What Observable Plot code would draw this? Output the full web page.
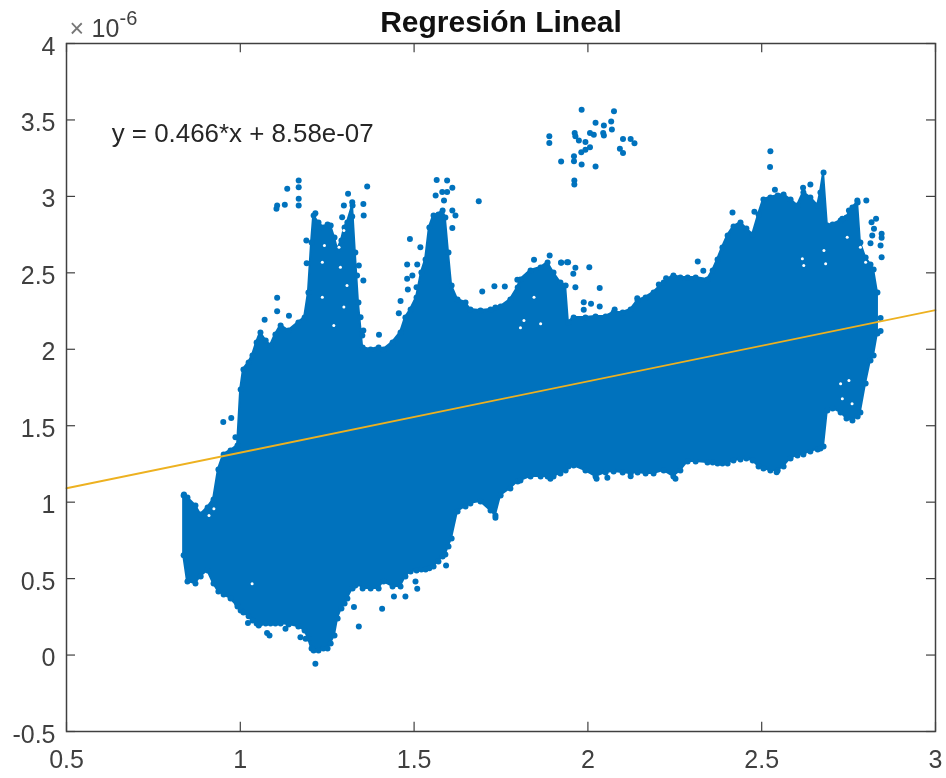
<!DOCTYPE html>
<html>
<head>
<meta charset="utf-8">
<script src="https://cdn.jsdelivr.net/npm/d3@7"></script>
<script src="https://cdn.jsdelivr.net/npm/@observablehq/plot@0.6"></script>
<style>
html,body{margin:0;padding:0;background:#fff}
svg{display:block;filter:blur(0.35px)}
</style>
</head>
<body>
<div id="chart"></div>
<script>
// y values are in units of 1e-6, as on the chart's own axis
const title = "Regresión Lineal";
const equation = "y = 0.466*x + 8.58e-07";
const xTicks = [0.5, 1, 1.5, 2, 2.5, 3];
const yTicks = [-0.5, 0, 0.5, 1, 1.5, 2, 2.5, 3, 3.5, 4];

const fitX = [0.5, 3];
const fitY = [1.091, 2.256];

// outer edge of the dense cloud
const edgeX = [.837,.848,.871,.886,.906,.923,.937,.952,.972,.992,1.001,1.009,1.024,1.035,1.047,1.058,1.073,1.087,1.101,1.116,1.139,1.167,1.185,1.196,1.205,1.211,1.225,1.239,1.251,1.260,1.271,1.280,1.291,1.300,1.308,1.323,1.331,1.340,1.352,1.375,1.398,1.412,1.438,1.461,1.475,1.490,1.507,1.521,1.533,1.544,1.556,1.570,1.582,1.590,1.599,1.608,1.625,1.648,1.662,1.691,1.720,1.734,1.749,1.777,1.798,1.806,1.835,1.864,1.884,1.901,1.921,1.936,1.944,1.959,1.993,2.022,2.051,2.074,2.100,2.123,2.143,2.166,2.189,2.218,2.246,2.266,2.287,2.310,2.344,2.359,2.373,2.387,2.402,2.419,2.439,2.456,2.474,2.491,2.505,2.525,2.546,2.563,2.583,2.603,2.620,2.640,2.661,2.669,2.678,2.689,2.704,2.727,2.744,2.761,2.776,2.784,2.799,2.813,2.822,2.833];
const edgeTop = [1.044,1.031,.978,.920,.965,1.018,1.214,1.312,1.338,1.371,1.737,1.868,1.914,1.960,2.045,2.110,2.058,2.025,2.097,2.156,2.123,2.175,2.208,2.372,2.699,2.875,2.829,2.797,2.816,2.810,2.731,2.653,2.712,2.797,2.829,2.941,2.633,2.306,2.012,1.999,2.012,1.999,2.045,2.110,2.208,2.260,2.339,2.502,2.587,2.797,2.875,2.882,2.908,2.862,2.633,2.417,2.326,2.306,2.260,2.254,2.260,2.273,2.280,2.326,2.404,2.457,2.515,2.535,2.568,2.502,2.437,2.417,2.175,2.208,2.208,2.215,2.215,2.241,2.241,2.260,2.319,2.339,2.372,2.437,2.483,2.470,2.470,2.470,2.457,2.515,2.587,2.666,2.744,2.803,2.829,2.790,2.751,2.882,2.980,2.993,3.006,3.012,2.980,2.941,3.026,2.993,2.941,3.026,3.156,2.810,2.816,2.842,2.862,2.927,2.960,2.699,2.600,2.555,2.522,2.372];
const edgeBottom = [.652,.481,.468,.514,.553,.468,.416,.396,.370,.318,.292,.279,.253,.226,.207,.207,.207,.207,.207,.207,.200,.187,.161,.109,.043,.030,.030,.043,.043,.076,.128,.239,.305,.338,.370,.436,.455,.468,.436,.436,.436,.481,.449,.449,.514,.547,.553,.560,.560,.567,.580,.612,.645,.658,.710,.763,.939,.972,.992,1.005,.946,.913,1.044,1.090,1.135,1.142,1.168,1.168,1.168,1.168,1.188,1.207,1.234,1.240,1.207,1.168,1.194,1.201,1.194,1.188,1.194,1.188,1.188,1.207,1.168,1.207,1.266,1.266,1.260,1.260,1.253,1.253,1.253,1.273,1.279,1.286,1.273,1.234,1.220,1.207,1.207,1.234,1.286,1.306,1.312,1.332,1.345,1.351,1.364,1.600,1.613,1.587,1.548,1.534,1.561,1.587,1.776,1.927,1.960,2.103];

// stray points outside the dense cloud
const strayX = [1.106,1.104,1.128,1.135,1.168,1.168,1.168,1.168,1.365,1.310,1.322,1.298,1.354,1.355,1.293,1.322,1.216,1.190,1.191,1.106,1.106,1.070,1.140,1.341,1.336,1.354,1.346,1.354,1.351,1.399,1.461,1.456,1.488,1.518,1.480,1.509,1.480,1.495,1.482,1.507,1.565,1.595,1.610,1.562,1.581,1.595,1.586,1.610,1.619,1.610,1.686,1.696,1.731,1.761,1.797,1.845,1.890,1.923,1.940,
1.982,2.075,2.022,2.067,2.046,2.069,2.046,2.044,2.006,2.017,1.962,1.964,1.889,1.889,1.974,1.993,2.006,1.993,1.981,1.960,1.960,1.923,1.982,2.022,1.961,1.961,2.101,2.123,2.134,2.092,2.101,2.525,2.524,2.538,2.416,2.479,2.316,2.332,2.204,2.225,2.004,2.034,1.923,1.943,1.964,1.958,1.964,1.988,2.009,1.988,2.034,2.077,2.142,2.640,2.619,2.775,2.801,2.829,2.816,2.845,2.845,2.818,2.813,2.842,2.845,2.823,2.751,2.732,2.842,2.842,
.838,.951,.974,.986,1.022,1.084,1.077,1.130,1.173,1.188,1.216,1.341,1.327,1.408,1.442,1.475,1.509,1.504,1.592,1.734,1.053,.991,2.025,2.056,1.892,2.252,2.543,2.123];
const strayY = [2.941,2.919,2.945,3.050,3.104,3.060,2.984,2.941,3.065,3.017,2.962,2.941,2.951,2.875,2.864,2.868,2.890,2.712,2.563,2.337,2.249,2.193,2.219,2.548,2.483,2.450,2.210,2.123,2.090,2.095,2.315,2.236,2.722,2.668,2.555,2.555,2.461,2.483,2.391,2.406,3.108,3.104,3.056,3.006,3.028,3.028,2.973,2.908,2.875,2.794,2.969,2.378,2.413,2.411,2.454,2.585,2.613,2.568,2.570,
3.566,3.557,3.481,3.490,3.464,3.438,3.398,3.414,3.414,3.403,3.414,3.394,3.394,3.350,3.366,3.355,3.322,3.305,3.289,3.263,3.230,3.228,3.209,3.196,3.104,3.078,3.376,3.376,3.348,3.311,3.283,3.296,3.193,3.043,2.895,2.899,2.574,2.513,2.424,2.465,2.537,2.400,2.566,2.570,2.533,2.494,2.406,2.308,2.297,2.258,2.280,2.260,2.334,3.078,3.056,2.973,2.973,2.853,2.831,2.755,2.729,2.744,2.694,2.679,2.602,2.788,2.908,2.853,2.119,2.204,
1.050,1.524,1.550,1.425,.209,.128,.144,.172,.117,.106,-.057,.187,.314,.303,.383,.383,.434,.481,.586,.898,.194,.335,1.153,1.159,1.153,1.153,1.196,1.170];

// small uncovered gaps inside the cloud
const gapX = [1.236,1.242,1.284,1.298,1.288,1.307,1.236,1.298,1.269,1.816,1.864,1.806,1.845,2.617,2.621,2.684,2.679,2.746,2.784,2.799,2.727,2.751,2.732,2.760,.924,.910,1.034];
const gapY = [2.570,2.679,2.668,2.777,2.537,2.417,2.341,2.276,2.156,2.188,2.167,2.140,2.341,2.592,2.548,2.559,2.646,2.733,2.668,2.570,1.774,1.796,1.676,1.643,.957,.913,.466];

const ink = "#404040", blue = "#0072BD", gold = "#EDB120";
const font = "'Liberation Sans', Arial, sans-serif";
const fmt = d => String(d);
const one = [0];

const plot = Plot.plot({
  width: 946, height: 778,
  marginLeft: 66, marginRight: 11, marginTop: 43, marginBottom: 47,
  style: {fontFamily: font, fontSize: "25px", color: ink, background: "#fff"},
  x: {domain: [0.5, 3], label: null},
  y: {domain: [-0.5, 4], label: null},
  marks: [
    Plot.areaY(edgeX, {x: edgeX, y1: edgeBottom, y2: edgeTop, fill: blue, stroke: blue, strokeWidth: 2}),
    Plot.dot(edgeX, {x: edgeX, y: edgeTop, r: 3, fill: blue}),
    Plot.dot(edgeX, {x: edgeX, y: edgeBottom, r: 3, fill: blue}),
    Plot.dot(strayX, {x: strayX, y: strayY, r: 3, fill: blue}),
    Plot.dot(gapX, {x: gapX, y: gapY, r: 1.5, fill: "#fff"}),
    Plot.line(fitX, {x: fitX, y: fitY, stroke: gold, strokeWidth: 1.8}),
    Plot.text(one, {x: 0.63, y: 3.41, text: () => equation, textAnchor: "start", fill: "#262626", fontSize: 25.9}),
    Plot.frame({stroke: ink, strokeWidth: 1.5}),
    Plot.axisX(xTicks, {anchor: "bottom", tickSize: 0, tickPadding: 19, tickFormat: fmt, fill: ink, fontSize: 25, label: null}),
    Plot.axisY(yTicks, {anchor: "left", tickSize: 0, tickPadding: 11, dy: 3, tickFormat: fmt, fill: ink, fontSize: 25, label: null}),
    Plot.ruleX(xTicks, {x: d => d, y1: -0.5, y2: -0.44, stroke: ink, strokeWidth: 1.2}),
    Plot.ruleX(xTicks, {x: d => d, y1: 3.94, y2: 4, stroke: ink, strokeWidth: 1.2}),
    Plot.ruleY(yTicks, {y: d => d, x1: 0.5, x2: 0.526, stroke: ink, strokeWidth: 1.2}),
    Plot.ruleY(yTicks, {y: d => d, x1: 2.974, x2: 3, stroke: ink, strokeWidth: 1.2}),
    Plot.text(one, {frameAnchor: "top", text: () => title, dy: -33, fontWeight: "bold", fontSize: 30, fill: "#111", lineAnchor: "top"}),
    Plot.text(one, {frameAnchor: "top-left", text: () => "×", dx: 3, dy: -24, fontSize: 25, fill: "#777", textAnchor: "start", lineAnchor: "top"}),
    Plot.text(one, {frameAnchor: "top-left", text: () => "10", dx: 25, dy: -24, fontSize: 25, fill: ink, textAnchor: "start", lineAnchor: "top"}),
    Plot.text(one, {frameAnchor: "top-left", text: () => "-6", dx: 53, dy: -33, fontSize: 20, fill: ink, textAnchor: "start", lineAnchor: "top"})
  ]
});
document.getElementById("chart").append(plot);
</script>
</body>
</html>
